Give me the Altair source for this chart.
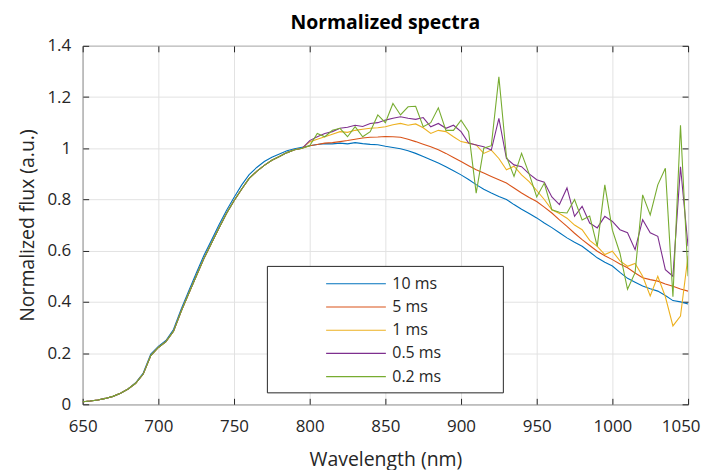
import altair as alt
import pandas as pd

wavelength = list(range(650, 1051, 5))

series_names = ["10 ms", "5 ms", "1 ms", "0.5 ms", "0.2 ms"]
series_colors = ["#0072BD", "#D95319", "#EDB120", "#7E2F8E", "#77AC30"]

rise_common = [0.010, 0.013, 0.017, 0.023, 0.031, 0.043, 0.060, 0.082, 0.118, 0.190,
               0.222, 0.245, 0.285, 0.362, 0.432, 0.500, 0.568, 0.628, 0.688, 0.745,
               0.795, 0.840, 0.882, 0.910, 0.933, 0.953, 0.968, 0.983, 0.994, 1.000]
rise_10ms = [0.010, 0.013, 0.017, 0.023, 0.031, 0.043, 0.060, 0.084, 0.122, 0.196,
             0.226, 0.249, 0.292, 0.370, 0.442, 0.512, 0.580, 0.640, 0.700, 0.757,
             0.808, 0.856, 0.897, 0.925, 0.948, 0.965, 0.978, 0.990, 0.998, 1.004]

tail_10ms = [1.010, 1.015, 1.018, 1.017, 1.020, 1.017, 1.022, 1.018, 1.015, 1.014,
             1.008, 1.003, 0.998, 0.990, 0.980, 0.968, 0.955, 0.942, 0.928, 0.912,
             0.896, 0.878, 0.858, 0.840, 0.825, 0.812, 0.800, 0.780, 0.762, 0.745,
             0.728, 0.708, 0.690, 0.670, 0.650, 0.633, 0.617, 0.595, 0.572, 0.555,
             0.540, 0.515, 0.492, 0.477, 0.462, 0.451, 0.442, 0.425, 0.405, 0.400, 0.392]
tail_5ms = [1.010, 1.015, 1.020, 1.022, 1.026, 1.030, 1.035, 1.040, 1.043, 1.044,
            1.046, 1.045, 1.043, 1.035, 1.026, 1.016, 1.006, 0.994, 0.980, 0.964,
            0.948, 0.932, 0.916, 0.903, 0.890, 0.877, 0.864, 0.845, 0.825, 0.808,
            0.792, 0.770, 0.747, 0.720, 0.695, 0.668, 0.643, 0.620, 0.598, 0.580,
            0.565, 0.548, 0.533, 0.513, 0.494, 0.487, 0.481, 0.470, 0.461, 0.450, 0.442]
tail_1ms = [1.025, 1.035, 1.045, 1.055, 1.065, 1.062, 1.070, 1.074, 1.078, 1.080,
            1.084, 1.092, 1.097, 1.090, 1.095, 1.080, 1.058, 1.070, 1.065, 1.045,
            1.026, 1.020, 1.013, 0.980, 0.993, 0.960, 0.916, 0.930, 0.896, 0.870,
            0.835, 0.800, 0.760, 0.745, 0.727, 0.700, 0.682, 0.640, 0.617, 0.585,
            0.598, 0.560, 0.539, 0.550, 0.500, 0.423, 0.500, 0.420, 0.306, 0.345, 0.580]
tail_05ms = [1.030, 1.045, 1.058, 1.065, 1.078, 1.082, 1.090, 1.085, 1.097, 1.100,
             1.110, 1.117, 1.123, 1.117, 1.113, 1.120, 1.084, 1.097, 1.078, 1.090,
             1.065, 1.020, 1.013, 1.006, 0.993, 1.117, 0.960, 0.935, 0.928, 0.900,
             0.877, 0.867, 0.810, 0.780, 0.845, 0.734, 0.773, 0.708, 0.689, 0.734,
             0.714, 0.682, 0.670, 0.604, 0.721, 0.670, 0.656, 0.526, 0.500, 0.928, 0.617]
tail_02ms = [1.010, 1.058, 1.045, 1.070, 1.078, 1.045, 1.084, 1.045, 1.065, 1.130,
             1.100, 1.175, 1.130, 1.162, 1.164, 1.084, 1.100, 1.158, 1.070, 1.070,
             1.110, 1.065, 0.825, 1.000, 1.010, 1.279, 0.967, 0.890, 0.980, 0.900,
             0.810, 0.864, 0.760, 0.750, 0.747, 0.800, 0.720, 0.735, 0.617, 0.857,
             0.680, 0.590, 0.449, 0.514, 0.818, 0.740, 0.857, 0.922, 0.420, 1.090, 0.500]

flux = {
    "10 ms": rise_10ms + tail_10ms,
    "5 ms": rise_common + tail_5ms,
    "1 ms": rise_common + tail_1ms,
    "0.5 ms": rise_common + tail_05ms,
    "0.2 ms": rise_common + tail_02ms,
}

x_ticks = [650, 700, 750, 800, 850, 900, 950, 1000, 1050]
y_ticks = [0, 0.2, 0.4, 0.6, 0.8, 1.0, 1.2, 1.4]

rows = []
for name in series_names:
    for w, v in zip(wavelength, flux[name]):
        rows.append({"wavelength": w, "flux": v, "series": name})
df = pd.DataFrame(rows)

FONT = "Open Sans"
INK = "#262626"
TICK = 6

xscale = alt.Scale(domain=[650, 1050], nice=False, zero=False)
yscale = alt.Scale(domain=[0, 1.4], nice=False, zero=False)

pad = "\u00a0" * 13 + "\u200b"
last_x = "datum.value === %d" % x_ticks[-1]

lines = alt.Chart(df).mark_line(strokeWidth=1.1, clip=True).encode(
    x=alt.X("wavelength:Q", scale=xscale,
            axis=alt.Axis(title="Wavelength (nm)", values=x_ticks, grid=True,
                          offset=-TICK, tickSize=TICK, labelPadding=14, labelFlush=False,
                          labelAlign={"condition": {"test": last_x, "value": "right"}, "value": "center"},
                          labelOffset={"condition": {"test": last_x, "value": 12}, "value": 0},
                          titlePadding=16, format="d")),
    y=alt.Y("flux:Q", scale=yscale,
            axis=alt.Axis(title="Normalized flux (a.u.)", values=y_ticks, grid=True,
                          offset=-TICK, tickSize=TICK, labelPadding=12, labelFlush=False,
                          titlePadding=9, format="~g")),
    color=alt.Color("series:N",
                    scale=alt.Scale(domain=series_names, range=series_colors),
                    legend=alt.Legend(title=None, orient="none", legendX=185, legendY=221,
                                      symbolType="M-3,0H3", symbolSize=400,
                                      symbolStrokeWidth=1.1, symbolOffset=71.5,
                                      labelOffset=25.5, rowPadding=4.3, padding=7,
                                      labelFont=FONT, labelFontSize=16, labelColor=INK,
                                      strokeColor=INK, fillColor="white",
                                      labelExpr="datum.label + '" + pad + "'")),
    order=alt.Order("wavelength:Q"),
)

frame = alt.Chart(df).mark_point(opacity=0).encode(
    x=alt.X("wavelength:Q", scale=xscale,
            axis=alt.Axis(orient="top", title=None, values=x_ticks, labels=False, grid=False,
                          offset=-TICK, tickSize=TICK)),
    y=alt.Y("flux:Q", scale=yscale,
            axis=alt.Axis(orient="right", title=None, values=y_ticks, labels=False, grid=False,
                          offset=-TICK, tickSize=TICK)),
)

chart = alt.layer(lines, frame).resolve_axis(x="independent", y="independent").properties(
    width=608,
    height=360,
    title=alt.TitleParams("Normalized spectra", font=FONT, fontSize=19.5, fontWeight="bold",
                          color="#000000", offset=3, anchor="middle"),
    autosize=alt.AutoSizeParams(type="none"),
    padding={"left": 75, "top": 37, "right": 14, "bottom": 70},
).configure_axis(
    labelFont=FONT, labelFontSize=17, labelColor=INK,
    titleFont=FONT, titleFontSize=19.5, titleFontWeight="normal", titleColor=INK,
    gridColor="#e2e2e2", gridWidth=1, tickColor=INK, tickWidth=1, domain=False,
).configure_view(stroke=INK, strokeWidth=1)

chart.save("out.html", embed_options={"renderer": "svg", "actions": False})
